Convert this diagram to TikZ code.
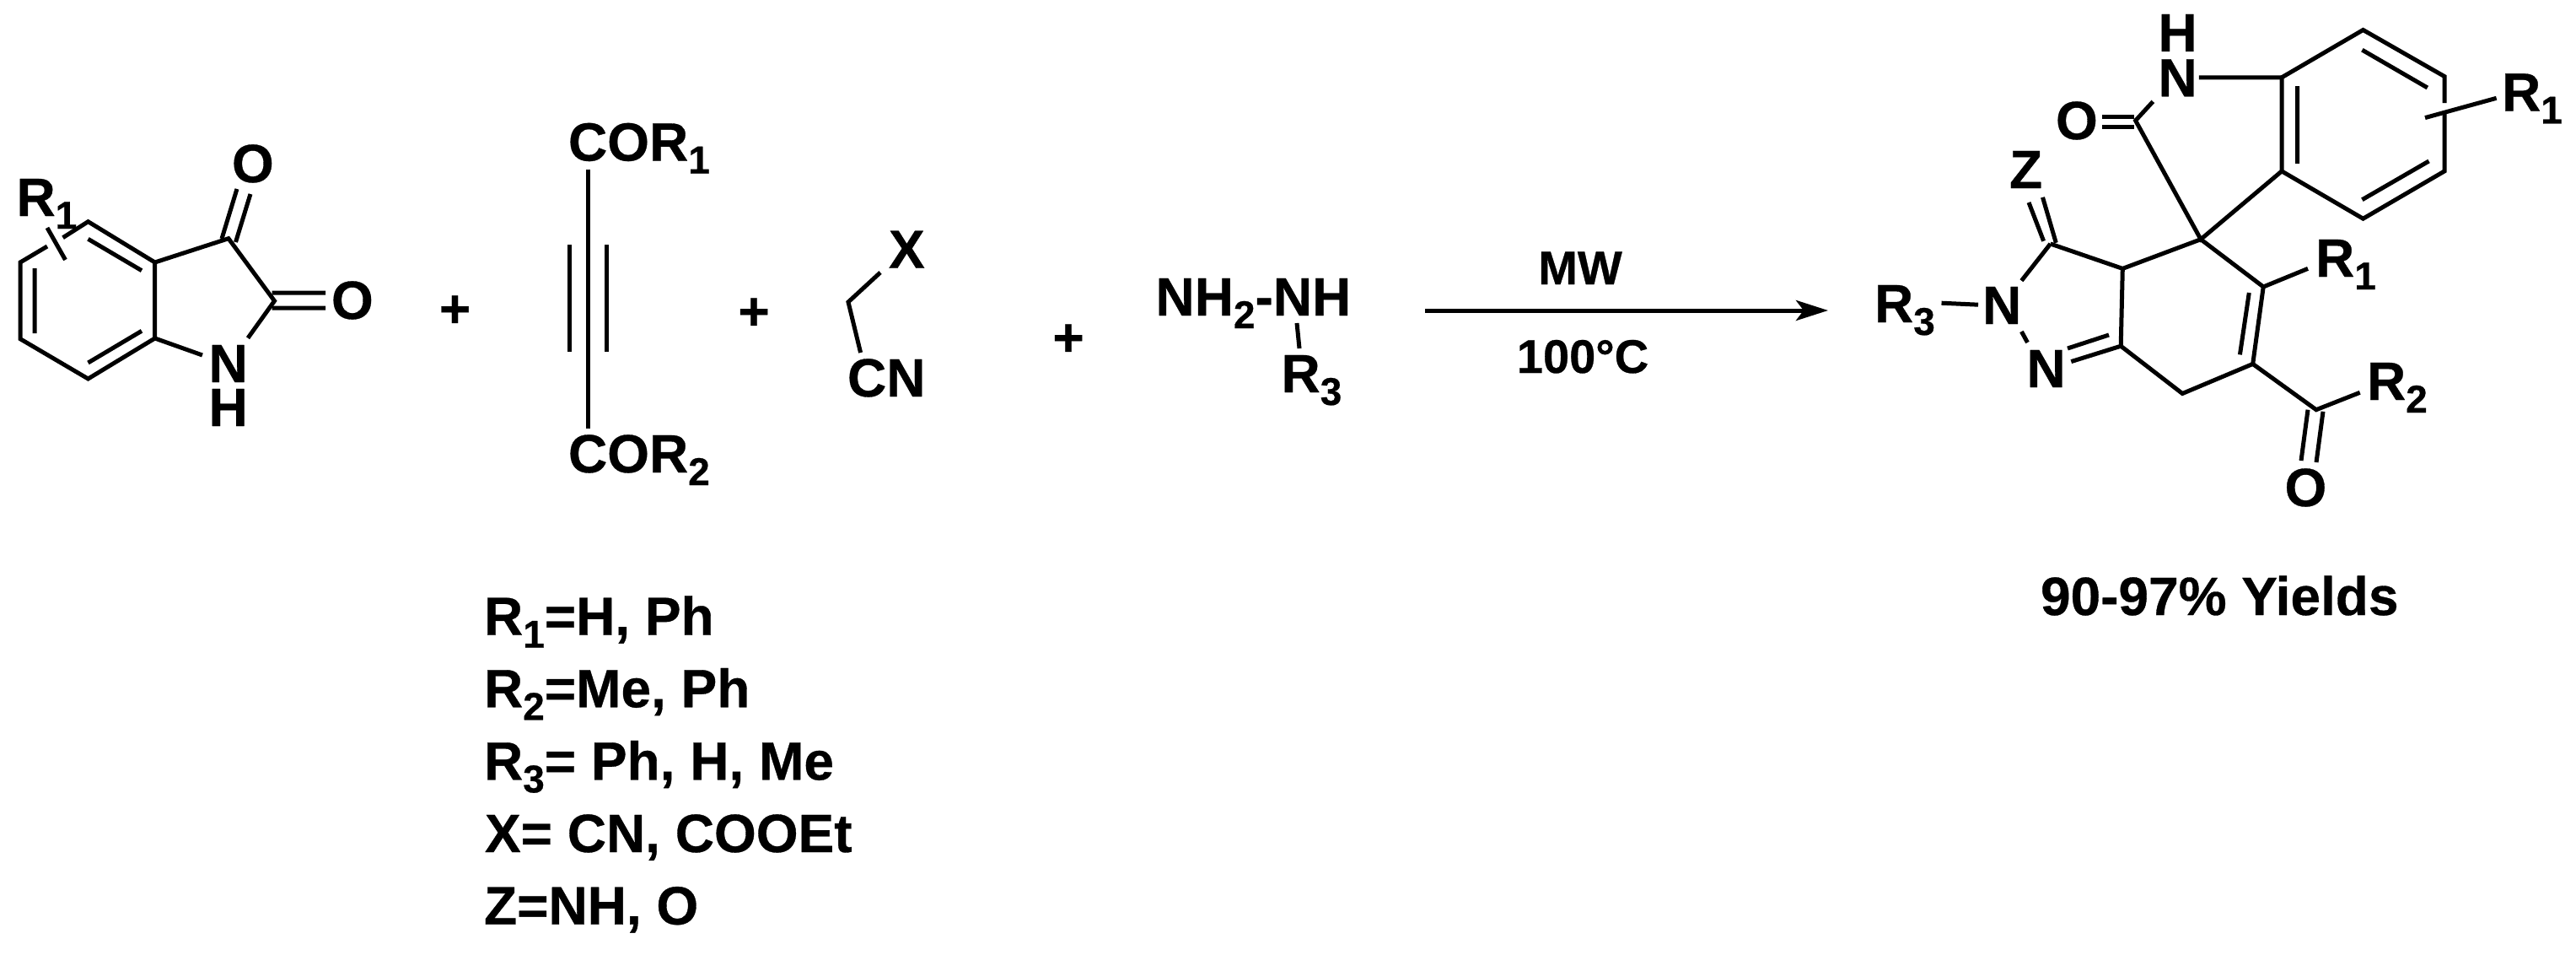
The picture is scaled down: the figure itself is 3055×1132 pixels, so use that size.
\documentclass[tikz,border=0pt]{standalone}
\usepackage{fontspec}
\setmainfont{Liberation Sans}[BoldFeatures={FakeBold=0.5}]
\usetikzlibrary{arrows.meta}
\newcommand{\subs}[1]{\raisebox{-15pt}{\fontsize{46}{46}\selectfont #1}}
\tikzset{
  chem/.style={inner sep=0pt,outer sep=0pt,anchor=base west,font=\fontsize{64}{64}\selectfont\bfseries},
  cond/.style={inner sep=0pt,outer sep=0pt,anchor=base,font=\fontsize{56}{56}\selectfont\bfseries},
  plus/.style={inner sep=0pt,outer sep=0pt,anchor=base,font=\fontsize{64}{64}\selectfont\bfseries},
  bond/.style={draw=black,line width=5pt,line cap=butt,line join=miter},
  rxn/.style={draw=black,line width=5pt,-{Stealth[length=38pt,width=24pt,inset=9pt]}}
}
\begin{document}
\begin{tikzpicture}[x=1pt,y=-1pt]
\useasboundingbox (0,0) rectangle (3055,1132);
\fill[white] (0,0) rectangle (3055,1132);
% ---------- isatin
\foreach \n/\x/\y in {ia/104.5/262.7,ib/183.7/311,ic/183.7/401,id/104.5/449,ie/24/401.7,if/24/311,
  ig/56/292,ih/74.6/281.7,ii1/104.5/283.3,ii2/168/320.7,ii3/168/392.3,ii4/104.5/430,ii5/41/318,ii6/41/395,
  ic3/271/282.7,ic2/325.5/356.7,inb1/240/421,inb2/294/400.7,
  io1a/263/283,io1b/281/224,io1c/279.5/287,io1d/297/230,
  io2a/322.6/347,io2b/386/347,io2c/322.6/365,io2d/386/365,
  irb1/56/270,irb2/77.5/308}{\coordinate (\n) at (\x,\y);}
\draw[bond] (ig)--(if)--(ie)--(id)--(ic)--(ib)--(ia)--(ih);
\draw[bond] (ii1)--(ii2) (ii3)--(ii4) (ii5)--(ii6);
\draw[bond] (ib)--(ic3)--(ic2)--(inb2) (ic)--(inb1);
\draw[bond] (io1a)--(io1b) (io1c)--(io1d) (io2a)--(io2b) (io2c)--(io2d);
\draw[bond] (irb1)--(irb2);
\node[chem] (iR) at (19.5,256) {R\subs{1}};
\node[chem] (iO1) at (275,216) {O};
\node[chem] (iO2) at (393,378) {O};
\node[chem] (iN) at (247.5,453) {N};
\node[chem] (iH) at (247.5,505) {H};
\node[plus] (p1) at (539.5,388) {+};
% ---------- alkyne
\foreach \n/\x/\y in {ya/697.5/200.7,yb/697.5/508,yc/675.7/290,yd/675.7/416.7,ye/719/290,yf/719/416.7}{\coordinate (\n) at (\x,\y);}
\draw[bond] (ya)--(yb) (yc)--(yd) (ye)--(yf);
\node[chem] (yT) at (674,190.5) {COR\subs{1}};
\node[chem] (yB) at (674,560) {COR\subs{2}};
\node[plus] (p2) at (894,391) {+};
% ---------- nitrile
\foreach \n/\x/\y in {na/1044/323,nb/1006/358,nc/1020.6/418}{\coordinate (\n) at (\x,\y);}
\draw[bond] (na)--(nb)--(nc);
\node[chem] (nX) at (1054,317.7) {X};
\node[chem] (nC) at (1005,470) {CN};
\node[plus] (p3) at (1267,422) {+};
% ---------- hydrazine
\coordinate (ha) at (1538,383);
\coordinate (hb) at (1541,413);
\draw[bond] (ha)--(hb);
\node[chem] (hN) at (1370.5,374) {NH\subs{2}-NH};
\node[chem] (hR) at (1519.5,465) {R\subs{3}};
% ---------- arrow
\coordinate (aa) at (1690,368);
\coordinate (ab) at (2168,368);
\draw[rxn] (aa)--(ab);
\node[cond] (cT) at (1874,337) {MW};
\node[cond] (cB) at (1877,442) {100°C};
% ---------- product
\foreach \n/\x/\y in {a/2802.5/35.5,b/2899/90.6,c/2899/202.9,d/2802.5/259.2,e/2706/202.9,f/2706/91.8,
  b1/2899/122,b2/2899/132,
  i1/2801.4/59.2,i2/2878.8/104,i3/2724.5/102,i4/2724.5/193.9,i5/2801.4/236.7,i6/2880.5/191,
  rb1/2876/139.6,rb2/2960.6/116.3,
  nf/2607.9/91.8,cq/2532.6/142.9,nq/2553.3/120.4,
  oa/2492.8/138.8,ob/2531/138.8,oc/2492.8/150.2,od/2531/150.2,
  sp/2610/283.7,c3a/2517.3/318.4,c5/2684.2/340,r5/2737/318.4,c6/2671.7/431.4,
  i7/2667.3/347,i8/2656.4/420.4,ch/2588.2/466.5,c7a/2515.2/410.2,
  n1/2456.3/428.6,n2/2501/397,n3/2452/413,
  nna/2404.5/406,nnb/2397.4/393,c3/2431.7/289,n4/2397.4/332.7,
  za/2406/240,zb/2423.6/285.7,zc/2422.5/233.9,zd/2438.3/287.8,
  r3a/2302.5/359.2,r3b/2346/361.2,
  cc/2746.9/485.7,r2/2798.7/465.3,
  pa/2737/485.7,pb/2729/546,pc/2755/487.8,pd/2747/548}{\coordinate (\n) at (\x,\y);}
\draw[bond] (b1)--(b)--(a)--(f)--(e)--(d)--(c)--(b2);
\draw[bond] (i1)--(i2) (i3)--(i4) (i5)--(i6) (rb1)--(rb2);
\draw[bond] (nf)--(f) (nq)--(cq)--(sp)--(e);
\draw[bond] (oa)--(ob) (oc)--(od);
\draw[bond] (c3)--(c3a)--(sp)--(c5)--(c6)--(ch)--(c7a)--(c3a);
\draw[bond] (c5)--(r5) (i7)--(i8) (c7a)--(n1) (n2)--(n3) (nna)--(nnb) (c3)--(n4);
\draw[bond] (za)--(zb) (zc)--(zd) (r3a)--(r3b);
\draw[bond] (c6)--(cc)--(r2) (pa)--(pb) (pc)--(pd);
\node[chem] (pH) at (2559.5,61) {H};
\node[chem] (pN) at (2559.5,114.3) {N};
\node[chem] (pO) at (2438,165) {O};
\node[chem] (pR1a) at (2967,131.4) {R\subs{1}};
\node[chem] (pZ) at (2383,223) {Z};
\node[chem] (pR1b) at (2746,328) {R\subs{1}};
\node[chem] (pR3) at (2223,382) {R\subs{3}};
\node[chem] (pN2) at (2351,384) {N};
\node[chem] (pN1) at (2403.5,459) {N};
\node[chem] (pR2) at (2807,474) {R\subs{2}};
\node[chem] (pO2) at (2709.5,600) {O};
\node[chem] (yld) at (2420,729) {90-97\% Yields};
% ---------- legend
\node[chem] (l1) at (574,752.7) {R\subs{1}=H, Ph};
\node[chem] (l2) at (574,838.3) {R\subs{2}=Me, Ph};
\node[chem] (l3) at (574,924.3) {R\subs{3}= Ph, H, Me};
\node[chem] (l4) at (575,1010) {X= CN, COOEt};
\node[chem] (l5) at (574,1095.7) {Z=NH, O};
\end{tikzpicture}
\end{document}
